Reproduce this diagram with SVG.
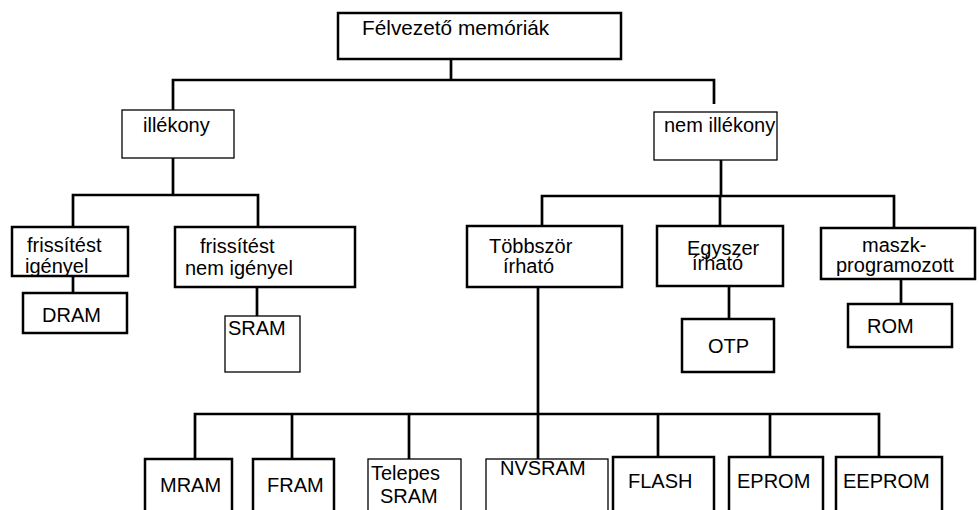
<svg xmlns="http://www.w3.org/2000/svg" width="979" height="510" viewBox="0 0 979 510">
<style>
.box{fill:#fff;stroke:#000;stroke-width:2.5}
.thin{fill:#fff;stroke:#000;stroke-width:1.3}
.t{font-family:"Liberation Sans",Arial,sans-serif;font-size:20px;fill:#000}
.c{fill:none;stroke:#000;stroke-width:2.7}
</style>
<rect width="979" height="510" fill="#fff"/>
<g id="connectors" class="c">
<path d="M451,59V80M173,110V80H714V104"/>
<path d="M173,158V195M73,227V195H258V227"/>
<path d="M73,276V293M257,287V316"/>
<path d="M721,160V196M542,226V196H894V228M720,196V226"/>
<path d="M729,286V319M901,279V304"/>
<path d="M538,287V459M195,459V414H879V457M292,414V459M409,414V459M658,414V457M770,414V457"/>
</g>
<g id="root"><rect class="box" x="338" y="13" width="283" height="46"/><text class="t" x="362" y="35" style="font-size:20.8px">Félvezető memóriák</text></g>
<g id="illekony"><rect class="thin" x="122" y="110" width="112" height="48"/><text class="t" x="143" y="132">illékony</text></g>
<g id="nemillekony"><rect class="thin" x="654" y="112" width="123" height="48"/><text class="t" x="664" y="132">nem illékony</text></g>
<g id="frissigenyel"><rect class="box" x="12" y="227" width="116" height="49"/><text class="t" x="27" y="252">frissítést</text><text class="t" x="25" y="273">igényel</text></g>
<g id="frissnemigenyel"><rect class="box" x="175" y="227" width="180" height="60"/><text class="t" x="200" y="253">frissítést</text><text class="t" x="185" y="275">nem igényel</text></g>
<g id="dram"><rect class="box" x="23" y="293" width="104" height="40"/><text class="t" x="42" y="322">DRAM</text></g>
<g id="sram"><rect class="thin" x="225" y="316" width="75" height="56"/><text class="t" x="228" y="335">SRAM</text></g>
<g id="tobbszor"><rect class="box" x="467" y="226" width="155" height="61"/><text class="t" x="489" y="253">Többször</text><text class="t" x="503" y="273">írható</text></g>
<g id="egyszer"><rect class="box" x="657" y="226" width="126" height="60"/><text class="t" x="687" y="255">Egyszer</text><text class="t" x="692" y="270">írható</text></g>
<g id="maszk"><rect class="box" x="821" y="228" width="154" height="51"/><text class="t" x="862" y="252">maszk-</text><text class="t" x="836" y="272">programozott</text></g>
<g id="otp"><rect class="box" x="682" y="319" width="92" height="53"/><text class="t" x="708" y="353">OTP</text></g>
<g id="rom"><rect class="box" x="848" y="304" width="104" height="43"/><text class="t" x="867" y="333">ROM</text></g>
<g id="mram"><rect class="box" x="145" y="459" width="87" height="60"/><text class="t" x="160" y="492">MRAM</text></g>
<g id="fram"><rect class="box" x="253" y="459" width="81" height="60"/><text class="t" x="267" y="492">FRAM</text></g>
<g id="telepes"><rect class="thin" x="368" y="459" width="93" height="60"/><text class="t" x="371" y="480">Telepes</text><text class="t" x="380" y="503">SRAM</text></g>
<g id="nvsram"><rect class="thin" x="486" y="459" width="122" height="60"/><text class="t" x="500" y="475">NVSRAM</text></g>
<g id="flash"><rect class="box" x="613" y="457" width="101" height="60"/><text class="t" x="628" y="488">FLASH</text></g>
<g id="eprom"><rect class="box" x="729" y="457" width="94" height="60"/><text class="t" x="737" y="488">EPROM</text></g>
<g id="eeprom"><rect class="box" x="836" y="457" width="106" height="60"/><text class="t" x="843" y="488">EEPROM</text></g>
</svg>
